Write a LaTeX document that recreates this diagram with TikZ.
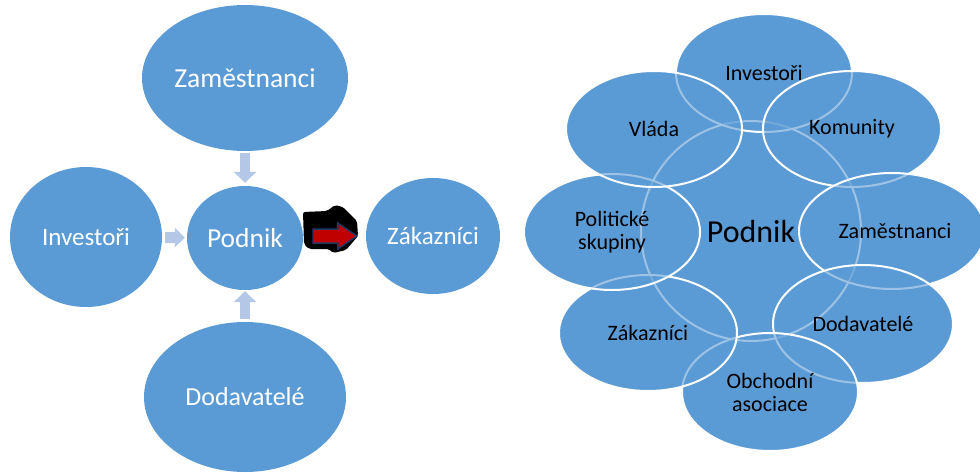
\documentclass[tikz,border=0pt]{standalone}
\usepackage{fontspec}
\setmainfont{Carlito}
\usetikzlibrary{calc,arrows.meta,shapes.geometric}
\definecolor{ellblue}{HTML}{5B9BD5}
\definecolor{arrblue}{HTML}{B4C7E7}
\definecolor{darkred}{HTML}{C00000}
\definecolor{navy}{HTML}{1F3864}
\begin{document}
\begin{tikzpicture}[x=1pt, y=-1pt,
    lell/.style={ellipse, fill=ellblue, inner sep=0pt, text=white, font=\fontsize{25}{30}\selectfont},
    rbase/.style={ellipse, fill=ellblue, inner sep=0pt},
    rell/.style={ellipse, fill=ellblue, fill opacity=0.6, draw=white, draw opacity=1, line width=2pt, inner sep=0pt},
    rtext/.style={align=center, text=black, font=\fontsize{22}{23}\selectfont},
    barrow/.style={draw=arrblue, line width=10pt, -{Triangle[length=11pt, width=22pt]}}]
    \useasboundingbox (0,0) rectangle (980,472);
    % left part
    \node[lell, minimum width=206, minimum height=146, font=\fontsize{27.5}{30}\selectfont] (zam) at (245,78) {Zaměstnanci};
    \node[lell, minimum width=152, minimum height=140] (inv) at (86,237) {Investoři};
    \node[lell, minimum width=116, minimum height=104, font=\fontsize{27.5}{30}\selectfont] (pod) at (245,238) {Podnik};
    \node[lell, minimum width=134, minimum height=116] (zak) at (433,236) {Zákazníci};
    \node[lell, minimum width=202, minimum height=150, font=\fontsize{26}{30}\selectfont] (dod) at (245,397) {Dodavatelé};
    \draw[barrow, shorten <=2pt, shorten >=3pt] (zam) -- (pod);
    \draw[barrow, shorten <=3pt, shorten >=1pt] (dod) -- (pod);
    \draw[draw=arrblue, line width=11pt, -{Triangle[length=10pt, width=19pt]}, shorten <=3pt, shorten >=2pt] (inv) -- (pod);
    \fill[black, rounded corners=2pt] (303,212) -- (327,211) -- (335,205) -- (343,207) -- (357,221) -- (358,236)
        -- (346,250) -- (333,253) -- (329,249) -- (309,249) -- (304,244) -- cycle;
    \coordinate (rs) at ($(pod.east)+(10,-2)$);
    \coordinate (rt) at ($(zak.west)+(-9,0)$);
    \filldraw[fill=darkred, draw=navy, line width=1.5pt, line join=miter]
        ($(rs)+(0,-7)$) -- ($(rt)+(-19,-7)$) -- ($(rt)+(-19,-13)$) -- (rt)
        -- ($(rt)+(-19,13)$) -- ($(rt)+(-19,7)$) -- ($(rs)+(0,7)$) -- cycle;
    % right part
    \foreach \n/\x/\y/\rx/\ry in {rpod/751/231/110/110, rinv/764/73/88/59, rkom/852/129/89/58,
        rzam/892/231/93/58, rdod/863/324/90/59, robch/770/392/88/59, rzak/648/333/89/58,
        rpol/612/232/88/58, rvla/654/129/88/58}
        \node[rbase, minimum width=2*\rx, minimum height=2*\ry] at (\x,\y) {};
    \foreach \n/\x/\y/\rx/\ry in {rpod/751/231/110/110, rinv/764/73/88/59, rkom/852/129/89/58,
        rzam/892/231/93/58, rdod/863/324/90/59, robch/770/392/88/59, rzak/648/333/89/58,
        rpol/612/232/88/58, rvla/654/129/88/58}
        \node[rell, minimum width=2*\rx, minimum height=2*\ry] (\n) at (\x,\y) {};
    \node[rtext, font=\fontsize{32}{36}\selectfont] at (rpod) {Podnik};
    \node[rtext] at (rinv) {Investoři};
    \node[rtext] at (rkom) {Komunity};
    \node[rtext] at ($(rzam)+(3,0)$) {Zaměstnanci};
    \node[rtext] at (rdod) {Dodavatelé};
    \node[rtext] at (robch) {Obchodní\\asociace};
    \node[rtext] at (rzak) {Zákazníci};
    \node[rtext] at (rpol) {Politické\\skupiny};
    \node[rtext] at (rvla) {Vláda};
\end{tikzpicture}
\end{document}
